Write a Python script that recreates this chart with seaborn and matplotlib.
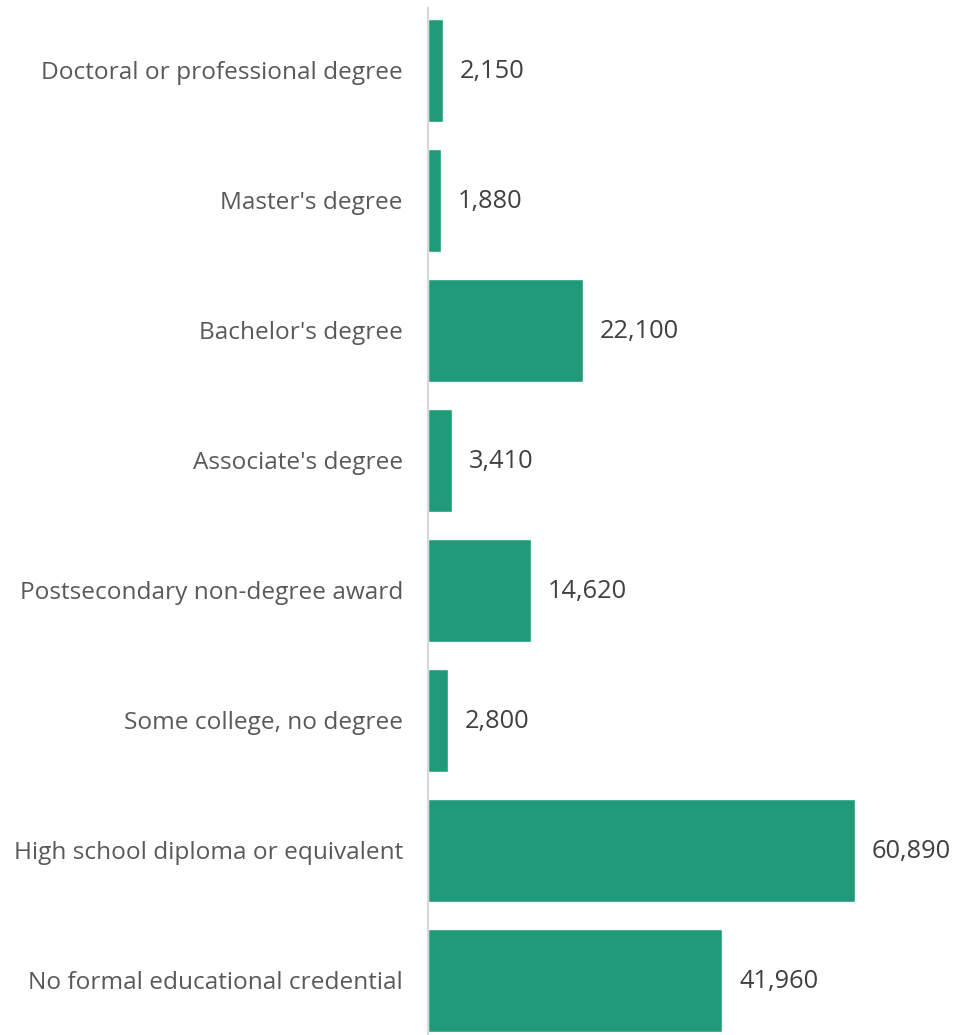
import matplotlib.pyplot as plt
import seaborn as sns
import pandas as pd

categories = [
    "Doctoral or professional degree",
    "Master's degree",
    "Bachelor's degree",
    "Associate's degree",
    "Postsecondary non-degree award",
    "Some college, no degree",
    "High school diploma or equivalent",
    "No formal educational credential",
]
employment = [2150, 1880, 22100, 3410, 14620, 2800, 60890, 41960]

df = pd.DataFrame({"education": categories, "jobs": employment})

sns.set_style("white")
plt.rcParams["font.family"] = ["Open Sans", "DejaVu Sans"]

fig = plt.figure(figsize=(9.67, 10.35), dpi=100)
ax = fig.add_axes([0.4426, 0.0, 0.508, 0.992])

sns.barplot(data=df, x="jobs", y="education", color="#1f9b7a",
            saturation=1, width=0.79, ax=ax)

ax.set_xlim(0, 70000)
ax.set_ylim(7.42, -0.477)

for i, v in enumerate(employment):
    ax.annotate(f"{v:,}", (v, i), xytext=(12, -1), textcoords="offset points",
                ha="left", va="center", fontsize=18.3, color="#404040")

ax.set_xlabel("")
ax.set_ylabel("")
ax.set_xticks([])
ax.tick_params(axis="y", length=0, pad=18, labelsize=17.6, labelcolor="#595959")
for s in ["top", "right", "bottom"]:
    ax.spines[s].set_visible(False)
ax.spines["left"].set_color("#d9d9d9")
ax.spines["left"].set_linewidth(1.5)

fig.savefig("out.png", dpi=100)
plt.close(fig)
